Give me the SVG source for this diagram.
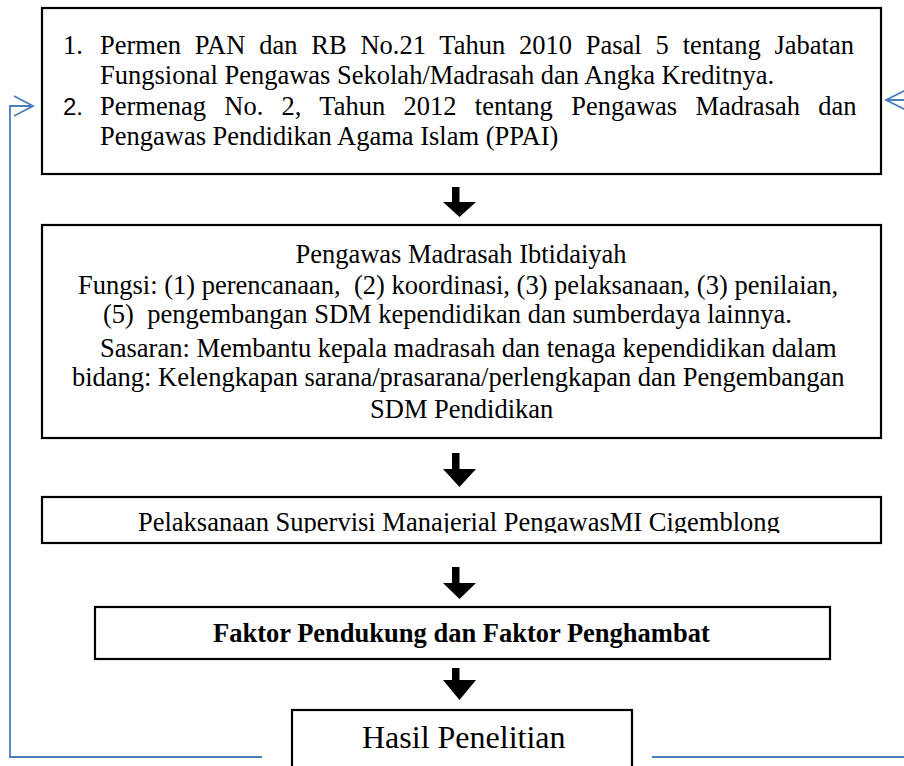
<svg xmlns="http://www.w3.org/2000/svg" width="904" height="766" viewBox="0 0 904 766">
<style>
.box{fill:#fff;stroke:#000;stroke-width:2.2}
.t{font-family:"Liberation Serif","Times New Roman",serif;font-size:26.5px;fill:#000}
.n{font-family:"Liberation Sans",Arial,sans-serif;font-size:24px;fill:#000}
.b{font-weight:bold}
.pre{white-space:pre}
.blk{fill:#000}
.fb{fill:none;stroke:#4a7ebb;stroke-width:1.8}
</style>
<defs>
<clipPath id="c3"><rect x="42" y="497" width="839" height="36"/></clipPath>
</defs>
<g id="connectors">
<path class="fb" d="M262 757 H10 V106 H32"/>
<path class="fb" d="M14 96 L33 106 L14 116"/>
<path class="fb" d="M652 757 H920 V100 H887"/>
<path class="fb" d="M906 90 L886 100 L906 110"/>
<polygon class="blk" points="452,187 459.5,187 459.5,202 476,202 459.5,217 443,202 452,202"/>
<polygon class="blk" points="452,453 459.5,453 459.5,469 476,469 459.5,487 443,469 452,469"/>
<polygon class="blk" points="452,567 459.5,567 459.5,583 476,583 459.5,599 443,583 452,583"/>
<polygon class="blk" points="452,668 459.5,668 459.5,680 476,680 459.5,700 443,680 452,680"/>
</g>
<g id="n1">
<rect class="box" x="42" y="8" width="839" height="166"/>
<text class="t" x="63" y="54">1.</text>
<text class="t" x="100" y="54" word-spacing="7.2">Permen PAN dan RB No.21 Tahun 2010 Pasal 5 tentang Jabatan</text>
<text class="t" x="100" y="84">Fungsional Pengawas Sekolah/Madrasah dan Angka Kreditnya.</text>
<text class="n" x="63" y="115">2.</text>
<text class="t" x="100" y="115" word-spacing="11.7">Permenag No. 2, Tahun 2012 tentang Pengawas Madrasah dan</text>
<text class="t" x="100" y="145">Pengawas Pendidikan Agama Islam (PPAI)</text>
</g>
<g id="n2">
<rect class="box" x="42" y="225" width="839" height="213"/>
<text class="t" x="461" y="263" text-anchor="middle">Pengawas Madrasah Ibtidaiyah</text>
<text class="t pre" x="78" y="294">Fungsi: (1) perencanaan,  (2) koordinasi, (3) pelaksanaan, (3) penilaian,</text>
<text class="t pre" x="103" y="323">(5)  pengembangan SDM kependidikan dan sumberdaya lainnya.</text>
<text class="t" x="100" y="357">Sasaran: Membantu kepala madrasah dan tenaga kependidikan dalam</text>
<text class="t" x="72" y="386">bidang: Kelengkapan sarana/prasarana/perlengkapan dan Pengembangan</text>
<text class="t" x="370" y="418">SDM Pendidikan</text>
</g>
<g id="n3">
<rect class="box" x="42" y="497" width="839" height="46"/>
<text class="t" x="138" y="531" clip-path="url(#c3)">Pelaksanaan Supervisi Manajerial PengawasMI Cigemblong</text>
</g>
<g id="n4">
<rect class="box" x="95" y="607" width="735" height="52"/>
<text class="t b" x="213" y="642">Faktor Pendukung dan Faktor Penghambat</text>
</g>
<g id="n5">
<rect class="box" x="292" y="710" width="340" height="80"/>
<text class="t" x="362" y="748" style="font-size:32px">Hasil Penelitian</text>
</g>
</svg>
